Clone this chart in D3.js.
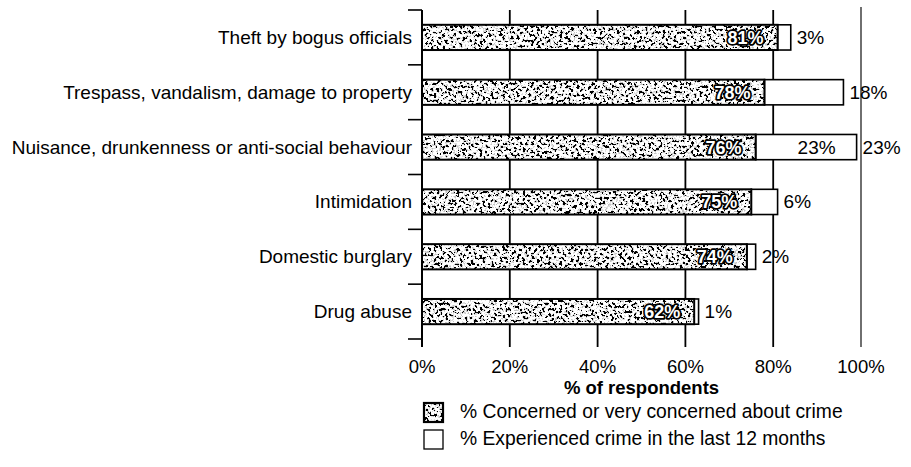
<!DOCTYPE html>
<html>
<head>
<meta charset="utf-8">
<script src="https://cdn.jsdelivr.net/npm/d3@7"></script>
<style>
  html, body { margin: 0; padding: 0; background: #fff; }
  svg { display: block; font-family: "Liberation Sans", Arial, sans-serif; }
</style>
</head>
<body>
<svg width="911" height="467"></svg>
<script>
const categories = [
  "Theft by bogus officials",
  "Trespass, vandalism, damage to property",
  "Nuisance, drunkenness or anti-social behaviour",
  "Intimidation",
  "Domestic burglary",
  "Drug abuse",
];
const concerned = [81, 78, 76, 75, 74, 62];
const experienced = [3, 18, 23, 6, 2, 1];
// the scan repeats this one value inside its white segment too
const labelledInside = ["Nuisance, drunkenness or anti-social behaviour"];
const xTicks = [0, 20, 40, 60, 80, 100];
const legendLabels = [
  "% Concerned or very concerned about crime",
  "% Experienced crime in the last 12 months",
];

const svg = d3.select("svg");
const rows = categories.map((c, i) => ({ c, conc: concerned[i], exp: experienced[i] }));

// halftone-ish grain for the grey segment
const defs = svg.append("defs");
const f = defs.append("filter").attr("id", "grain")
  .attr("x", 0).attr("y", 0).attr("width", 1).attr("height", 1);
f.append("feTurbulence").attr("type", "fractalNoise")
  .attr("baseFrequency", 0.35).attr("numOctaves", 3).attr("seed", 7).attr("result", "n");
f.append("feColorMatrix").attr("in", "n").attr("type", "matrix")
  .attr("values", "1 0 0 0 0  1 0 0 0 0  1 0 0 0 0  0 0 0 0 1").attr("result", "g");
const ct = f.append("feComponentTransfer").attr("in", "g");
const table = "0 0 0 0 0 0 0 0 0.55 0.75 1 1 1 1 1 1 1 1 1 1";
["feFuncR", "feFuncG", "feFuncB"].forEach((fn) =>
  ct.append(fn).attr("type", "discrete").attr("tableValues", table));

const x = d3.scaleLinear().domain([0, 100]).range([422, 861]);
const y = d3.scaleBand().domain(categories).range([10, 339])
  .paddingInner(0.54).paddingOuter(0.27);
const half = (y.step() * y.paddingInner()) / 2;
const mid = (d) => y(d) + y.bandwidth() / 2;

// --- gridlines ---
svg.append("g")
  .selectAll("line")
  .data(xTicks.slice(1))
  .join("line")
  .attr("x1", (d) => x(d)).attr("x2", (d) => x(d))
  .attr("y1", (d) => (d === 100 ? 7 : 10)).attr("y2", 347)
  .attr("stroke", (d) => (d === 100 ? "#333" : "#000"))
  .attr("stroke-width", (d) => (d === 100 ? 1.4 : 1.8));

// --- y axis with boundary ticks ---
const bounds = categories.map((c) => y(c) - half).concat([y(categories[5]) + y.bandwidth() + half]);
svg.append("line")
  .attr("x1", x(0)).attr("x2", x(0)).attr("y1", bounds[0]).attr("y2", 347)
  .attr("stroke", "#000").attr("stroke-width", 2);
svg.append("g")
  .selectAll("line")
  .data(bounds)
  .join("line")
  .attr("x1", x(0) - 14).attr("x2", x(0))
  .attr("y1", (d) => d).attr("y2", (d) => d)
  .attr("stroke", "#000").attr("stroke-width", 1.6);

svg.append("g")
  .selectAll("text")
  .data(categories)
  .join("text")
  .attr("x", 412)
  .attr("y", (d) => mid(d) + 6.5)
  .attr("text-anchor", "end")
  .attr("font-size", "19px")
  .attr("fill", "#000")
  .text((d) => d);

// --- bars ---
const bars = svg.append("g");
bars.selectAll("rect.exp")
  .data(rows)
  .join("rect")
  .attr("class", "exp")
  .attr("x", (d) => x(d.conc))
  .attr("y", (d) => y(d.c))
  .attr("width", (d) => x(d.conc + d.exp) - x(d.conc))
  .attr("height", y.bandwidth())
  .attr("fill", "#fff")
  .attr("stroke", "#000")
  .attr("stroke-width", 1.6);

bars.selectAll("rect.concbg")
  .data(rows)
  .join("rect")
  .attr("class", "concbg")
  .attr("x", x(0))
  .attr("y", (d) => y(d.c))
  .attr("width", (d) => x(d.conc) - x(0))
  .attr("height", y.bandwidth())
  .attr("fill", "#888")
  .attr("filter", "url(#grain)");

bars.selectAll("rect.conc")
  .data(rows)
  .join("rect")
  .attr("class", "conc")
  .attr("x", x(0))
  .attr("y", (d) => y(d.c))
  .attr("width", (d) => x(d.conc) - x(0))
  .attr("height", y.bandwidth())
  .attr("fill", "none")
  .attr("stroke", "#000")
  .attr("stroke-width", 2);

// value labels inside grey
bars.selectAll("text.conc")
  .data(rows)
  .join("text")
  .attr("class", "conc")
  .attr("x", (d) => x(d.conc) - 14)
  .attr("y", (d) => mid(d.c) + 6.5)
  .attr("text-anchor", "end")
  .attr("font-size", "18px")
  .attr("font-weight", "bold")
  .attr("fill", "#fff")
  .attr("stroke", "#000")
  .attr("stroke-width", 3.5)
  .attr("stroke-linejoin", "round")
  .attr("paint-order", "stroke")
  .text((d) => d.conc + "%");

bars.selectAll("text.exp")
  .data(rows)
  .join("text")
  .attr("class", "exp")
  .attr("x", (d) => x(d.conc + d.exp) + 6)
  .attr("y", (d) => mid(d.c) + 6.5)
  .attr("font-size", "19px")
  .attr("fill", "#000")
  .text((d) => d.exp + "%");

bars.selectAll("text.expin")
  .data(rows.filter((d) => labelledInside.includes(d.c)))
  .join("text")
  .attr("class", "expin")
  .attr("x", (d) => x(d.conc + d.exp) - 21)
  .attr("y", (d) => mid(d.c) + 6.5)
  .attr("text-anchor", "end")
  .attr("font-size", "19px")
  .attr("fill", "#000")
  .text((d) => d.exp + "%");

// --- x tick labels & title ---
svg.append("g")
  .selectAll("text")
  .data(xTicks)
  .join("text")
  .attr("x", (d) => x(d))
  .attr("y", 373)
  .attr("text-anchor", "middle")
  .attr("font-size", "18.5px")
  .text((d) => d + "%");

svg.append("text")
  .attr("x", (x(0) + x(100)) / 2)
  .attr("y", 394)
  .attr("text-anchor", "middle")
  .attr("font-size", "18.5px")
  .attr("font-weight", "bold")
  .text("% of respondents");

// --- legend ---
const lg = svg.append("g").selectAll("g")
  .data(legendLabels)
  .join("g")
  .attr("transform", (d, i) => `translate(424,${403 + i * 27})`);
lg.filter((d, i) => i === 0).append("rect")
  .attr("width", 19).attr("height", 19)
  .attr("fill", "#888").attr("filter", "url(#grain)");
lg.append("rect")
  .attr("width", 19).attr("height", 19)
  .attr("fill", (d, i) => (i === 0 ? "none" : "#fff"))
  .attr("stroke", "#000")
  .attr("stroke-width", (d, i) => (i === 0 ? 2.2 : 1.3));
lg.append("text")
  .attr("x", 36).attr("y", 15)
  .attr("font-size", "19.3px")
  .text((d) => d);
</script>
</body>
</html>
